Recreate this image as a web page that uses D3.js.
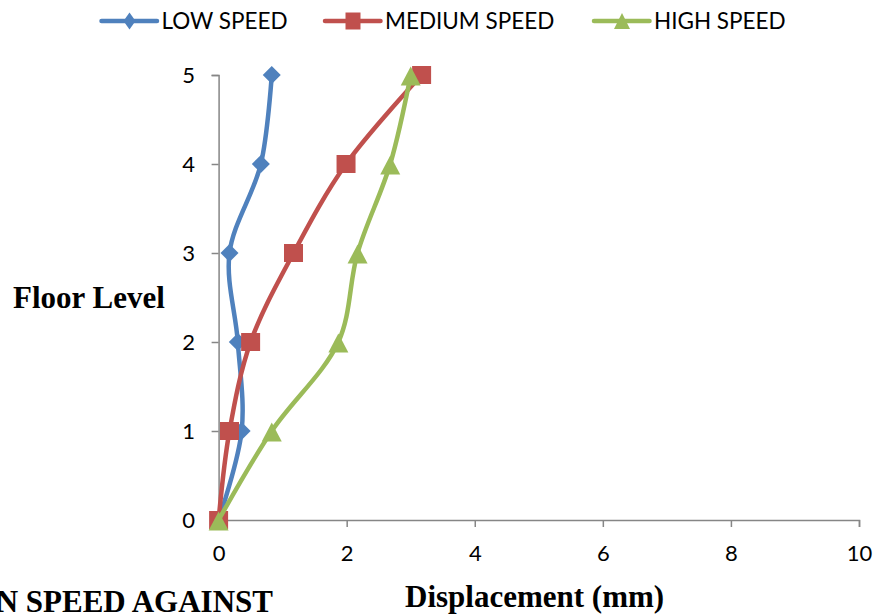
<!DOCTYPE html>
<html><head><meta charset="utf-8">
<script src="https://cdn.jsdelivr.net/npm/d3@7"></script>
<style>body{margin:0;background:#fff}svg{display:block}</style>
</head><body>
<svg id="c" width="877" height="615"></svg>
<script>
const floors = [0, 1, 2, 3, 4, 5];
const lowSpeed = [0, 0.36, 0.30, 0.17, 0.66, 0.83];
const mediumSpeed = [0, 0.17, 0.50, 1.17, 1.99, 3.17];
const highSpeed = [0, 0.83, 1.87, 2.17, 2.68, 3.00];
const seriesNames = ["LOW SPEED", "MEDIUM SPEED", "HIGH SPEED"];
const xTicks = [0, 2, 4, 6, 8, 10];
const yTicks = [0, 1, 2, 3, 4, 5];

const colors = ["#4F81BD", "#C0504D", "#9BBB59"];
const seriesVals = [lowSpeed, mediumSpeed, highSpeed];

// marker shapes (w = width, h = height)
function marker(i, w, h) {
  const a = w / 2, b = h / 2;
  if (i === 0) return `M0,${-b}L${a},0L0,${b}L${-a},0Z`;
  if (i === 1) return `M${-a},${-b}H${a}V${b}H${-a}Z`;
  return `M0,${-b}L${a},${b}L${-a},${b}Z`;
}
const plotDims = [[18, 18], [19, 18], [20, 19]];
const legDims = [[12, 17], [15, 17], [16, 16]];

const svg = d3.select("#c");
const x = d3.scaleLinear().domain([0, 10]).range([218.6, 859]);
const y = d3.scaleLinear().domain([0, 5]).range([520, 75]);
const font = "Lato, 'Open Sans', sans-serif";

// axes
const xa = svg.append("g").attr("transform", "translate(0,520)")
  .call(d3.axisBottom(x).tickValues(xTicks).tickSize(7).tickPadding(18).tickFormat(d3.format("d")));
const ya = svg.append("g").attr("transform", "translate(218.6,0)")
  .call(d3.axisLeft(y).tickValues(yTicks).tickSize(7).tickPadding(16.5).tickFormat(d3.format("d")));
[xa, ya].forEach(a => {
  a.selectAll("path,line").attr("stroke", "#868686").attr("stroke-width", 1.5);
  a.selectAll("text").attr("fill", "#000").style("font-family", font).style("font-size", "22px");
});
xa.selectAll("text").attr("dy", "0").attr("dominant-baseline", "auto")
  .attr("y", 0).attr("transform", "translate(0,40.7)");
ya.selectAll("text").attr("dy", "0.36em");

// lines
const line = d3.line().x(d => x(d[0])).y(d => y(d[1])).curve(d3.curveCatmullRom.alpha(0.5));
seriesVals.forEach((vals, i) => {
  const pts = vals.map((v, j) => [v, floors[j]]);
  svg.append("path").datum(pts).attr("d", line)
    .attr("fill", "none").attr("stroke", colors[i]).attr("stroke-width", 4.5)
    .attr("stroke-linejoin", "round");
  svg.append("g").selectAll("path").data(pts).join("path")
    .attr("transform", d => `translate(${x(d[0])},${y(d[1]) + (i === 2 ? 1 : 0)})`)
    .attr("d", marker(i, plotDims[i][0], plotDims[i][1]))
    .attr("fill", colors[i]);
});

// legend
const legX = [101.5, 325, 594];
seriesNames.forEach((n, i) => {
  const g = svg.append("g").attr("transform", `translate(${legX[i]},21)`);
  g.append("line").attr("x1", 0).attr("x2", 55.5).attr("y1", 0).attr("y2", 0)
    .attr("stroke", colors[i]).attr("stroke-width", 4.5).attr("stroke-linecap", "round");
  g.append("path").attr("transform", `translate(28,0)`)
    .attr("d", marker(i, legDims[i][0], legDims[i][1])).attr("fill", colors[i]);
  g.append("text").attr("x", 60).attr("y", 0).attr("dy", "0.36em")
    .style("font-family", font).style("font-size", "22.5px").text(n);
});

// axis titles
const tfont = "'Liberation Serif', 'Times New Roman', serif";
svg.append("text").attr("x", 13).attr("y", 308)
  .style("font-family", tfont).style("font-size", "31px").style("font-weight", "bold").text("Floor Level");
svg.append("text").attr("x", 405).attr("y", 606.7)
  .style("font-family", tfont).style("font-size", "31px").style("font-weight", "bold").text("Displacement (mm)");
svg.append("text").attr("x", 273).attr("y", 612).attr("text-anchor", "end")
  .style("font-family", tfont).style("font-size", "31px").style("font-weight", "bold").text("VARIATION SPEED AGAINST");
</script>
</body></html>
